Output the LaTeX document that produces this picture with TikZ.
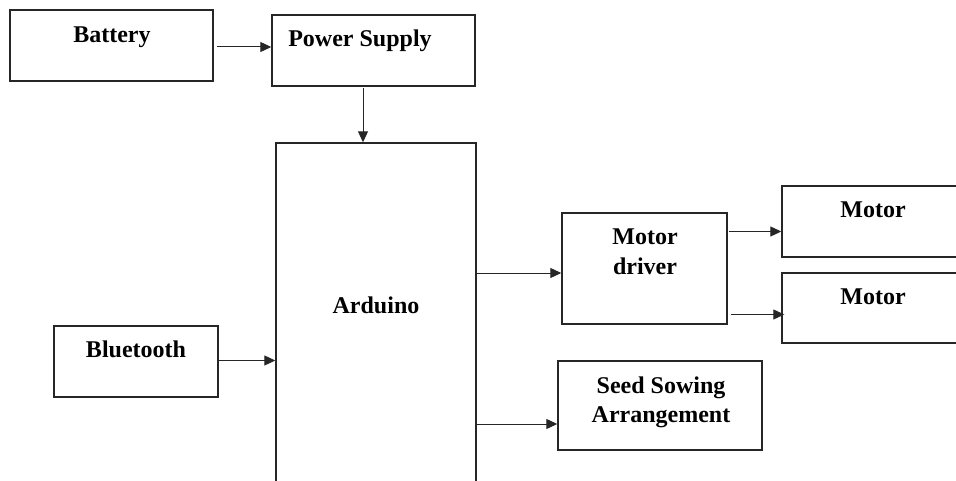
\documentclass[tikz,border=0pt]{standalone}
\usepackage{fontspec}
\setmainfont{Liberation Serif}
\usetikzlibrary{arrows.meta,calc}
\begin{document}
\begin{tikzpicture}[x=1pt,y=-1pt,
  box/.style={draw=black!85,line width=1.4pt,inner sep=0pt,minimum width=#1},
  lbl/.style={font=\fontsize{24}{29}\selectfont\bfseries,inner sep=0pt,align=center},
  arr/.style={draw=black!85,line width=1pt,-{Triangle[length=11pt,width=10pt]}}]
\useasboundingbox (0,0) rectangle (956,481);
\clip (0,0) rectangle (956,481);
\fill[white] (0,0) rectangle (956,481);
% boxes
\node[box=203pt,minimum height=71pt] (bat) at (111.5,45.5) {};
\node[box=203pt,minimum height=71pt] (ps) at (373.5,50.5) {};
\node[box=200pt,minimum height=357pt] (ard) at (376,321.5) {};
\node[box=164pt,minimum height=71pt] (bt) at (136,361.5) {};
\node[box=165pt,minimum height=111pt] (md) at (644.5,268.5) {};
\node[box=178pt,minimum height=71pt] (m1) at (871,221.5) {};
\node[box=178pt,minimum height=70pt] (m2) at (871,308) {};
\node[box=204pt,minimum height=89pt] (seed) at (660,405.5) {};
% labels
\node[lbl,anchor=base] (tbat) at (112,43) {Battery};
\node[lbl,anchor=base] (tps) at (360,47) {Power Supply};
\node[lbl,anchor=base] (tbt) at (136,357) {Bluetooth};
\node[lbl,anchor=base] (tard) at (376,313) {Arduino};
\node[lbl,anchor=base] (tm1) at (873,218) {Motor};
\node[lbl,anchor=base] (tm2) at (873,304) {Motor};
\node[lbl,anchor=base] (tmd1) at (645,245) {Motor};
\node[lbl,anchor=base] (tmd2) at (645,275) {driver};
\node[lbl,anchor=base] (ts1) at (661,393) {Seed Sowing};
\node[lbl,anchor=base] (ts2) at (661,422) {Arrangement};
% connectors
\coordinate (a1) at (217,47);
\draw[arr] (a1) -- (a1 -| ps.west);
\coordinate (a2) at (363,88);
\draw[arr] (a2) -- (a2 |- ard.north);
\coordinate (a3) at (219,360.5);
\draw[arr] (a3) -- (a3 -| ard.west);
\coordinate (a4) at (476,273);
\draw[arr] (a4) -- (a4 -| md.west);
\coordinate (a5) at (476,424);
\draw[arr] (a5) -- (a5 -| seed.west);
\coordinate (a6) at (729,231.5);
\draw[arr] (a6) -- (a6 -| m1.west);
\coordinate (a7) at (731,314.5);
\draw[arr] (a7) -- ($(a7 -| m2.west)+(3,0)$);
\end{tikzpicture}
\end{document}
